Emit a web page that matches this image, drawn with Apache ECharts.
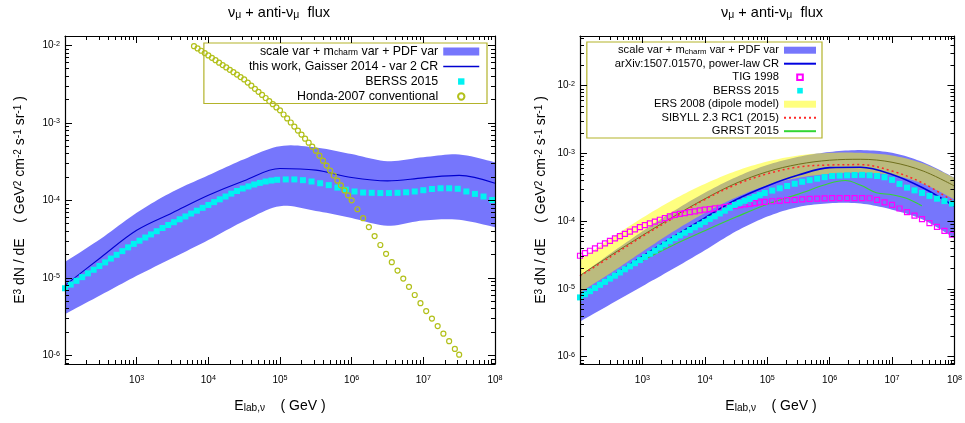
<!DOCTYPE html>
<html>
<head>
<meta charset="utf-8">
<script src="https://cdn.jsdelivr.net/npm/echarts@6.0.0/dist/echarts.min.js"></script>
<style>html,body{margin:0;padding:0;background:#fff}#chart{width:965px;height:423px}</style>
</head>
<body>
<div id="chart"></div>
<script>
// ---------------- data ----------------
// coarse energy grid (GeV) for bands and curves
const eGrid = [1e2, 3.16e2, 1e3, 3.16e3, 1e4, 3.16e4, 1e5, 3.16e5, 1e6, 3.16e6, 1e7, 3.16e7, 1e8];

// left panel: scale var + m_charm var + PDF var band, central curve (Gaisser 2014 var 2)
const bandUpperL = [1.6e-5, 3.2e-5, 6.9e-5, 1.29e-4, 2.1e-4, 3.4e-4, 5.0e-4, 4.8e-4, 3.95e-4, 3.2e-4, 3.6e-4, 3.9e-4, 3.1e-4];
const bandLowerL = [3.4e-6, 6.0e-6, 1.06e-5, 1.8e-5, 3.07e-5, 5.4e-5, 8.4e-5, 7.3e-5, 5.9e-5, 4.7e-5, 5.5e-5, 5.6e-5, 4.5e-5];
const centralL   = [8.0e-6, 1.83e-5, 4.1e-5, 6.9e-5, 1.16e-4, 1.79e-4, 2.57e-4, 2.45e-4, 1.97e-4, 1.78e-4, 1.95e-4, 2.1e-4, 1.66e-4];

// fine energy grid (GeV) for point series (BERSS, TIG)
const eFine = [100, 120.2, 144.5, 173.8, 208.9, 251.2, 302.0, 363.1, 436.5, 524.8, 631.0, 758.6, 912.0,
  1096, 1318, 1585, 1905, 2291, 2754, 3311, 3981, 4786, 5754, 6918, 8318,
  1.0e4, 1.202e4, 1.445e4, 1.738e4, 2.089e4, 2.512e4, 3.020e4, 3.631e4, 4.365e4, 5.248e4, 6.310e4, 7.586e4, 9.120e4,
  1.202e5, 1.585e5, 2.089e5, 2.754e5, 3.631e5, 4.786e5, 6.310e5, 8.318e5,
  1.096e6, 1.445e6, 1.905e6, 2.512e6, 3.311e6, 4.365e6, 5.754e6, 7.586e6,
  1.0e7, 1.318e7, 1.738e7, 2.291e7, 3.020e7, 3.981e7, 5.248e7, 6.918e7, 9.120e7];

const berssL = [7.33e-6, 8.18e-6, 9.14e-6, 1.02e-5, 1.14e-5, 1.27e-5, 1.42e-5, 1.58e-5, 1.77e-5, 1.98e-5,
  2.21e-5, 2.47e-5, 2.74e-5, 3.01e-5, 3.31e-5, 3.63e-5, 3.99e-5, 4.39e-5, 4.80e-5, 5.22e-5,
  5.69e-5, 6.19e-5, 6.75e-5, 7.35e-5, 8.00e-5, 8.71e-5, 9.48e-5, 1.03e-4, 1.12e-4, 1.22e-4,
  1.32e-4, 1.42e-4, 1.51e-4, 1.60e-4, 1.68e-4, 1.75e-4, 1.80e-4, 1.84e-4,
  1.86e-4, 1.86e-4, 1.82e-4, 1.75e-4, 1.66e-4, 1.57e-4, 1.46e-4, 1.37e-4,
  1.30e-4, 1.26e-4, 1.25e-4, 1.24e-4, 1.24e-4, 1.25e-4, 1.27e-4, 1.30e-4,
  1.35e-4, 1.40e-4, 1.43e-4, 1.43e-4, 1.41e-4, 1.30e-4, 1.21e-4, 1.12e-4, 1.01e-4];

// Honda-2007 conventional
const hondaE = [6310, 7079, 7943, 8913, 1.0e4, 1.122e4, 1.259e4, 1.413e4, 1.585e4, 1.778e4, 1.995e4, 2.239e4,
  2.512e4, 2.818e4, 3.162e4, 3.548e4, 3.981e4, 4.467e4, 5.012e4, 5.623e4, 6.310e4, 7.079e4, 7.943e4, 8.913e4,
  1.0e5, 1.122e5, 1.259e5, 1.413e5, 1.585e5, 1.778e5, 1.995e5, 2.239e5, 2.512e5, 2.818e5, 3.162e5, 3.548e5,
  3.981e5, 4.467e5, 5.012e5, 5.623e5, 6.310e5, 7.079e5, 7.943e5, 8.913e5, 1.0e6,
  1.202e6, 1.445e6, 1.738e6, 2.089e6, 2.512e6, 3.020e6, 3.631e6, 4.365e6, 5.248e6, 6.310e6, 7.586e6, 9.120e6,
  1.096e7, 1.318e7, 1.585e7, 1.905e7, 2.291e7, 2.754e7, 3.162e7];
const hondaFlux = [9.77e-3, 9.12e-3, 8.51e-3, 7.94e-3, 7.41e-3, 6.90e-3, 6.43e-3, 5.98e-3, 5.57e-3, 5.19e-3, 4.83e-3, 4.50e-3,
  4.19e-3, 3.90e-3, 3.63e-3, 3.31e-3, 3.02e-3, 2.75e-3, 2.51e-3, 2.29e-3, 2.09e-3, 1.91e-3, 1.74e-3, 1.58e-3,
  1.45e-3, 1.28e-3, 1.14e-3, 1.01e-3, 8.95e-4, 7.94e-4, 7.05e-4, 6.25e-4, 5.55e-4, 4.92e-4, 4.37e-4, 3.77e-4,
  3.25e-4, 2.81e-4, 2.42e-4, 2.09e-4, 1.80e-4, 1.56e-4, 1.34e-4, 1.16e-4, 1.00e-4,
  7.67e-5, 5.89e-5, 4.51e-5, 3.46e-5, 2.65e-5, 2.04e-5, 1.59e-5, 1.24e-5, 9.77e-6, 7.66e-6, 6.00e-6, 4.71e-6,
  3.72e-6, 2.98e-6, 2.38e-6, 1.90e-6, 1.52e-6, 1.21e-6, 1.02e-6];

// right panel
const bandUpperR = [1.58e-5, 3.39e-5, 7.08e-5, 1.41e-4, 2.63e-4, 4.47e-4, 6.76e-4, 8.91e-4, 1.05e-3, 1.12e-3, 1.02e-3, 7.41e-4, 4.37e-4];
const bandLowerR = [3.31e-6, 6.03e-6, 1.10e-5, 2.0e-5, 3.72e-5, 7.08e-5, 1.17e-4, 1.62e-4, 1.84e-4, 1.82e-4, 1.48e-4, 1.05e-4, 5.62e-5];
const centralR   = [7.76e-6, 1.51e-5, 3.02e-5, 5.89e-5, 1.12e-4, 2.07e-4, 3.31e-4, 4.79e-4, 6.17e-4, 6.24e-4, 4.9e-4, 3.09e-4, 1.66e-4];
const ersUpper   = [2.69e-5, 5.62e-5, 1.12e-4, 2.09e-4, 3.55e-4, 5.5e-4, 7.59e-4, 9.33e-4, 1.02e-3, 1.02e-3, 9.33e-4, 7.08e-4, 4.37e-4];
const ersLower   = [8.91e-6, 1.74e-5, 3.55e-5, 7.08e-5, 1.32e-4, 2.24e-4, 3.39e-4, 4.37e-4, 5.01e-4, 5.19e-4, 4.79e-4, 3.55e-4, 2.09e-4];
const ersCentral = [1.58e-5, 3.16e-5, 6.17e-5, 1.17e-4, 2.14e-4, 3.63e-4, 5.37e-4, 6.92e-4, 7.94e-4, 8.2e-4, 7.41e-4, 5.5e-4, 3.31e-4];
const sibyll     = [1.55e-5, 3.02e-5, 5.96e-5, 1.12e-4, 2.09e-4, 3.47e-4, 5.01e-4, 6.31e-4, 6.76e-4, 6.84e-4, 5.5e-4, 3.63e-4, 1.91e-4];
const grrstE = [1e3, 3.16e3, 1e4, 3.16e4, 1e5, 3.16e5, 1e6, 1.78e6, 3.16e6, 5.62e6, 1e7, 1.78e7, 3.0e7];
const grrst  = [2.63e-5, 4.47e-5, 7.24e-5, 1.15e-4, 1.78e-4, 2.51e-4, 3.63e-4, 3.98e-4, 3.39e-4, 2.63e-4, 2.45e-4, 2.14e-4, 1.68e-4];

const berssR = [7.50e-6, 8.34e-6, 9.27e-6, 1.03e-5, 1.15e-5, 1.27e-5, 1.42e-5, 1.57e-5, 1.75e-5, 1.95e-5,
  2.16e-5, 2.40e-5, 2.67e-5, 2.97e-5, 3.31e-5, 3.68e-5, 4.10e-5, 4.56e-5, 5.07e-5, 5.62e-5,
  6.17e-5, 6.76e-5, 7.41e-5, 8.13e-5, 8.91e-5, 9.77e-5, 1.08e-4, 1.18e-4, 1.30e-4, 1.43e-4,
  1.58e-4, 1.74e-4, 1.87e-4, 2.00e-4, 2.13e-4, 2.28e-4, 2.44e-4, 2.61e-4,
  2.83e-4, 3.06e-4, 3.31e-4, 3.57e-4, 3.82e-4, 4.03e-4, 4.24e-4, 4.47e-4,
  4.65e-4, 4.70e-4, 4.75e-4, 4.81e-4, 4.83e-4, 4.76e-4, 4.65e-4, 4.45e-4,
  4.07e-4, 3.55e-4, 3.13e-4, 2.85e-4, 2.61e-4, 2.36e-4, 2.15e-4, 1.98e-4, 1.82e-4];
const tig = [3.09e-5, 3.37e-5, 3.66e-5, 3.98e-5, 4.34e-5, 4.72e-5, 5.14e-5, 5.56e-5, 6.01e-5, 6.49e-5,
  7.01e-5, 7.59e-5, 8.18e-5, 8.77e-5, 9.29e-5, 9.86e-5, 1.05e-4, 1.11e-4, 1.18e-4, 1.24e-4,
  1.28e-4, 1.32e-4, 1.36e-4, 1.40e-4, 1.44e-4, 1.48e-4, 1.51e-4, 1.55e-4, 1.58e-4, 1.61e-4,
  1.65e-4, 1.69e-4, 1.73e-4, 1.77e-4, 1.80e-4, 1.85e-4, 1.89e-4, 1.93e-4,
  1.97e-4, 2.00e-4, 2.04e-4, 2.07e-4, 2.10e-4, 2.13e-4, 2.15e-4, 2.17e-4,
  2.19e-4, 2.19e-4, 2.19e-4, 2.19e-4, 2.19e-4, 2.18e-4, 2.07e-4, 1.90e-4,
  1.74e-4, 1.54e-4, 1.36e-4, 1.21e-4, 1.07e-4, 9.38e-5, 8.22e-5, 7.21e-5, 6.31e-5];

// axis ticks
const xMajorTicks = [1e2, 1e3, 1e4, 1e5, 1e6, 1e7, 1e8];
const xLabelTicks = [1e3, 1e4, 1e5, 1e6, 1e7, 1e8];
const yMajorTicks = [1e-6, 1e-5, 1e-4, 1e-3, 1e-2];
const yLabelTicks = [1e-6, 1e-5, 1e-4, 1e-3, 1e-2];
const xRange = [1e2, 1e8];
const yRangeL = [7.72e-7, 1.32e-2];
const yRangeR = [7.8e-7, 5.415e-2];

// ---------------- helpers ----------------
const FONT = '"Liberation Sans", Arial, Helvetica, sans-serif';
const pairs = (xs, ys) => xs.map((x, i) => [x, ys[i]]);
function minorTicks(lo, hi) {
  const out = [];
  for (let p = -8; p <= 9; p++) {
    for (let k = 2; k <= 9; k++) {
      const v = k * Math.pow(10, p);
      if (v > lo && v < hi) out.push(v);
    }
  }
  return out;
}
const expLabel = v => '10{s|' + Math.round(Math.log10(v)) + '}';
const labelRich = { s: { fontSize: 7.2, lineHeight: 2, verticalAlign: 'top', fontFamily: FONT, color: '#000' } };

function logAxes(dim, gridIndex, range, majors, labels, margin) {
  const posA = dim === 'x' ? 'bottom' : 'left';
  const posB = dim === 'x' ? 'top' : 'right';
  const minors = minorTicks(range[0], range[1]);
  const common = { type: 'log', logBase: 10, gridIndex, min: range[0], max: range[1], z: 10, silent: true,
    splitLine: { show: false }, splitArea: { show: false } };
  const line = { show: true, onZero: false, lineStyle: { color: '#000', width: 1.2 } };
  const noLine = { show: false, onZero: false };
  const tMaj = { show: true, inside: true, length: 7, customValues: majors, lineStyle: { color: '#000', width: 1 } };
  const tMin = { show: true, inside: true, length: 4, customValues: minors, lineStyle: { color: '#000', width: 1 } };
  const lab = { show: true, customValues: labels, margin, color: '#000', fontFamily: FONT, fontSize: 10,
    lineHeight: 10, formatter: expLabel, rich: labelRich };
  return [
    Object.assign({}, common, { position: posA, axisLine: line, axisTick: tMaj, axisLabel: lab }),
    Object.assign({}, common, { position: posA, axisLine: noLine, axisTick: tMin, axisLabel: { show: false } }),
    Object.assign({}, common, { position: posB, axisLine: line, axisTick: tMaj, axisLabel: { show: false } }),
    Object.assign({}, common, { position: posB, axisLine: noLine, axisTick: tMin, axisLabel: { show: false } })
  ];
}

const legendText = {
  bandL: 'scale var + m{sub|charm} var + PDF var',
  lineL: 'this work, Gaisser 2014 - var 2 CR',
  berssL: 'BERSS 2015',
  hondaL: 'Honda-2007 conventional',
  bandR: 'scale var + m{sub|charm} var + PDF var',
  lineR: 'arXiv:1507.01570, power-law CR',
  tigR: 'TIG 1998',
  berssR: 'BERSS 2015',
  ersR: 'ERS 2008 (dipole model)',
  sibR: 'SIBYLL 2.3 RC1 (2015)',
  grR: 'GRRST 2015'
};
function legendCfg(F, opt) {
  return Object.assign({
    orient: 'vertical', align: 'right', selectedMode: false, backgroundColor: 'transparent',
    borderColor: '#b3b32a', borderWidth: 1.2, borderRadius: 0,
    textStyle: { color: '#000', fontFamily: FONT, fontSize: F, lineHeight: 12,
      rich: { sub: { fontSize: F * 0.7, lineHeight: 2, verticalAlign: 'bottom', fontFamily: FONT, color: '#000' } } },
    formatter: name => legendText[name]
  }, opt);
}

const BAND_BLUE = '#7676fc';
const ERS_YELLOW = 'rgba(255,255,0,0.5)';

// Catmull-Rom resampling in pixel space (drawing only)
function spline(pts, steps) {
  const out = [];
  for (let i = 0; i < pts.length - 1; i++) {
    const p0 = pts[i - 1] || pts[i], p1 = pts[i], p2 = pts[i + 1], p3 = pts[i + 2] || pts[i + 1];
    for (let s = 0; s < steps; s++) {
      const t = s / steps, t2 = t * t, t3 = t2 * t;
      const f = k => 0.5 * (2 * p1[k] + (-p0[k] + p2[k]) * t + (2 * p0[k] - 5 * p1[k] + 4 * p2[k] - p3[k]) * t2 +
        (-p0[k] + 3 * p1[k] - 3 * p2[k] + p3[k]) * t3);
      out.push([f(0), f(1)]);
    }
  }
  out.push(pts[pts.length - 1]);
  return out;
}

function band(name, xi, yi, xs, lo, hi, fill) {
  return {
    name, type: 'custom', xAxisIndex: xi, yAxisIndex: yi, silent: true,
    itemStyle: { color: fill }, data: pairs(xs, hi),
    renderItem: (params, api) => {
      if (params.dataIndex !== 0) return null;
      const up = spline(xs.map((x, i) => api.coord([x, hi[i]])), 10);
      const dn = spline(xs.map((x, i) => api.coord([x, lo[i]])), 10).reverse();
      return { type: 'polygon', shape: { points: up.concat(dn) }, style: { fill } };
    }
  };
}
function curve(name, xi, yi, xs, ys, color, width, type) {
  return { name, type: 'line', xAxisIndex: xi, yAxisIndex: yi, smooth: 0.35, symbol: 'none',
    itemStyle: { color }, lineStyle: { color, width, type: type || 'solid' }, data: pairs(xs, ys), silent: true };
}
function points(name, xi, yi, xs, ys, symbol, size, itemStyle) {
  return { name, type: 'line', xAxisIndex: xi, yAxisIndex: yi, symbol, symbolSize: size, showSymbol: true,
    itemStyle, lineStyle: { width: 0, opacity: 0 }, data: pairs(xs, ys), silent: true };
}

const xAxes = [].concat(
  logAxes('x', 0, xRange, xMajorTicks, xLabelTicks, 11),
  logAxes('x', 1, xRange, xMajorTicks, xLabelTicks, 11));
const yAxes = [].concat(
  logAxes('y', 0, yRangeL, yMajorTicks, yLabelTicks, 5),
  logAxes('y', 1, yRangeR, yMajorTicks, yLabelTicks, 5));

const series = [
  // left panel (axes 0)
  band('bandL', 0, 0, eGrid, bandLowerL, bandUpperL, BAND_BLUE),
  curve('lineL', 0, 0, eGrid, centralL, '#0000d0', 1.1),
  points('berssL', 0, 0, eFine, berssL, 'rect', 6, { color: '#00f2f2' }),
  points('hondaL', 0, 0, hondaE, hondaFlux, 'circle', 5, { color: 'rgba(255,255,255,0)', borderColor: '#b2c01a', borderWidth: 1.2 }),
  // right panel (axes 4)
  band('bandR', 4, 4, eGrid, bandLowerR, bandUpperR, BAND_BLUE),
  points('tigR', 4, 4, eFine, tig, 'rect', 5, { color: 'rgba(255,255,255,0)', borderColor: '#ff00ff', borderWidth: 1.2 }),
  points('berssR', 4, 4, eFine, berssR, 'rect', 6, { color: '#00f2f2' }),
  band('ersR', 4, 4, eGrid, ersLower, ersUpper, ERS_YELLOW),
  curve('ersC', 4, 4, eGrid, ersCentral, '#6f6f1c', 1),
  curve('lineR', 4, 4, eGrid, centralR, '#0000e0', 1.6),
  curve('sibR', 4, 4, eGrid, sibyll, '#ff2a2a', 1.5, [2, 3]),
  curve('grR', 4, 4, grrstE, grrst, '#33d633', 1.1)
];

const subRich = F => ({ sub: { fontSize: F * 0.72, lineHeight: 2, verticalAlign: 'bottom', fontFamily: FONT, fill: '#000' },
                       sup: { fontSize: F * 0.72, lineHeight: 2, verticalAlign: 'top', fontFamily: FONT, fill: '#000' } });
function gText(x, y, text, F, rotation) {
  return { type: 'text', x, y, rotation: rotation || 0, silent: true, z: 20,
    style: { text, fontSize: F, fontFamily: FONT, fill: '#000', lineHeight: F, align: 'center', verticalAlign: 'middle', rich: subRich(F) } };
}
const titleText = '\u03bd{sub|\u03bc} + anti-\u03bd{sub|\u03bc}  flux';
const yTitle = 'E{sup|3} dN / dE    ( GeV{sup|2} cm{sup|-2} s{sup|-1} sr{sup|-1} )';
const xTitle = 'E{sub|lab,\u03bd}    ( GeV )';

const option = {
  animation: false,
  backgroundColor: '#fff',
  grid: [
    { left: 65, top: 36, width: 430, height: 328, containLabel: false },
    { left: 580, top: 36, width: 384, height: 328, containLabel: false }
  ],
  xAxis: xAxes,
  yAxis: yAxes,
  legend: [
    legendCfg(12.4, { right: 478, top: 43, itemWidth: 36, itemHeight: 8, itemGap: 3, padding: [2.5, 7, 1, 45],
      data: [
        { name: 'bandL', icon: 'rect', itemStyle: { color: BAND_BLUE } },
        { name: 'lineL', itemStyle: { opacity: 0 }, lineStyle: { width: 1.5 } },
        { name: 'berssL', lineStyle: { opacity: 0 } },
        { name: 'hondaL', lineStyle: { opacity: 0 } }
      ] }),
    legendCfg(11.2, { right: 143, top: 42, itemWidth: 32, itemHeight: 7, itemGap: 1.5, padding: [2.2, 5, 0.8, 28],
      data: [
        { name: 'bandR', icon: 'rect', itemStyle: { color: BAND_BLUE } },
        { name: 'lineR', itemStyle: { opacity: 0 } },
        { name: 'tigR', lineStyle: { opacity: 0 } },
        { name: 'berssR', lineStyle: { opacity: 0 } },
        { name: 'ersR', icon: 'rect', itemStyle: { color: ERS_YELLOW } },
        { name: 'sibR', itemStyle: { opacity: 0 } },
        { name: 'grR', itemStyle: { opacity: 0 } }
      ] })
  ],
  graphic: [
    gText(279, 13, titleText, 14.5),
    gText(772, 13, titleText, 14.5),
    gText(280, 406, xTitle, 14),
    gText(771, 406, xTitle, 14),
    gText(20, 200, yTitle, 14, Math.PI / 2),
    gText(541, 200, yTitle, 14, Math.PI / 2)
  ],
  series
};

const chart = echarts.init(document.getElementById('chart'), null, { renderer: 'canvas' });
chart.setOption(option);
</script>
</body>
</html>
